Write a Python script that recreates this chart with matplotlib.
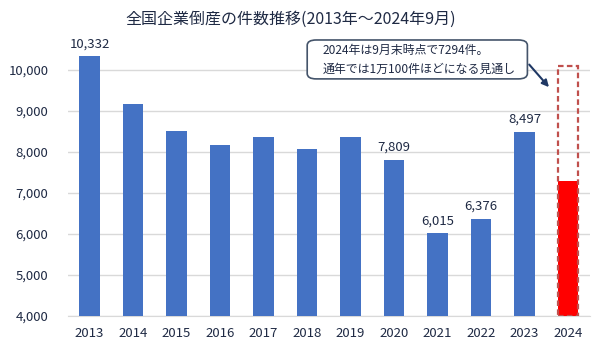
import numpy as np
import matplotlib
matplotlib.use("Agg")
import matplotlib.pyplot as plt
from matplotlib.patches import FancyBboxPatch

plt.rcParams['font.family'] = ['Noto Sans CJK JP', 'DejaVu Sans']

years = ['2013', '2014', '2015', '2016', '2017', '2018', '2019', '2020', '2021', '2022', '2023', '2024']
counts = [10332, 9180, 8517, 8164, 8376, 8063, 8354, 7809, 6015, 6376, 8497, 7294]
labeled = ['2013', '2020', '2021', '2022', '2023']
forecast_2024 = 10100

text_color = '#1f2a44'

fig = plt.figure(figsize=(6, 3.57), dpi=100)
ax = fig.add_axes([0.113, 0.115, 0.870, 0.804])

x = np.arange(len(years))
colors = ['#4472C4'] * (len(years) - 1) + ['#FF0000']
ax.bar(x, counts, width=0.48, color=colors, bottom=0, zorder=3)

# forecast outline for 2024
ax.bar(x[-1], forecast_2024 - 4000, bottom=4000, width=0.48, fill=False,
       edgecolor='#C0504D', linestyle=(0, (2.5, 1.5)), linewidth=1.6, zorder=4)

for xi, yr, c in zip(x, years, counts):
    if yr in labeled:
        ax.text(xi, c + 150, f'{c:,}', ha='center', va='bottom', fontsize=9.5, color=text_color)

ax.set_ylim(4000, 11000)
ax.set_xlim(-0.5, len(years) - 0.5)
ax.set_yticks(range(4000, 10001, 1000))
ax.set_yticklabels([f'{v:,}' for v in range(4000, 10001, 1000)])
ax.set_xticks(x)
ax.set_xticklabels(years)
ax.tick_params(axis='both', length=0, labelsize=9.5, labelcolor=text_color)
ax.tick_params(axis='y', pad=14)
ax.tick_params(axis='x', pad=8)
ax.yaxis.grid(True, color='#d9d9d9', linewidth=1, zorder=0)
for s in ['top', 'right', 'left']:
    ax.spines[s].set_visible(False)
ax.spines['bottom'].set_color('#d9d9d9')

fig.text(0.485, 0.945, '全国企業倒産の件数推移(2013年～2024年9月)', ha='center', va='center',
         fontsize=11.5, color=text_color)

# callout
box = FancyBboxPatch((0.512, 0.779), 0.367, 0.109, boxstyle='round,pad=0.0,rounding_size=0.015',
                     transform=fig.transFigure, facecolor='white', edgecolor='#44546A', linewidth=1.2, zorder=5)
fig.patches.append(box)
fig.text(0.537, 0.858, '2024年は9月末時点で7294件。', fontsize=8.6, color=text_color, va='center', zorder=6)
fig.text(0.537, 0.807, '通年では1万100件ほどになる見通し', fontsize=8.6, color=text_color, va='center', zorder=6)
ax.annotate('', xy=(0.918, 0.75), xycoords='figure fraction', xytext=(0.879, 0.825),
            textcoords='figure fraction',
            arrowprops=dict(arrowstyle='-|>', color='#1f3864', lw=1.5, mutation_scale=10))

fig.savefig('out.png', dpi=100)
